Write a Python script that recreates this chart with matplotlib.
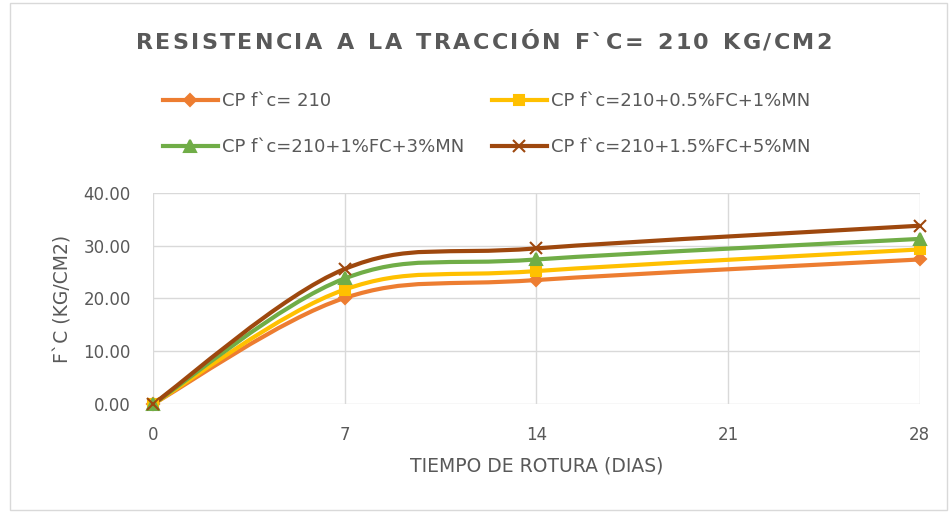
import numpy as np
import matplotlib.pyplot as plt
from matplotlib.path import Path
from matplotlib.patches import PathPatch, Rectangle
from matplotlib.lines import Line2D
from matplotlib.font_manager import FontProperties

# data
dias = [0, 7, 14, 28]
cp_210 = [0.0, 20.1, 23.5, 27.4]
cp_05fc_1mn = [0.0, 21.7, 25.2, 29.3]
cp_1fc_3mn = [0.0, 23.8, 27.4, 31.3]
cp_15fc_5mn = [0.0, 25.6, 29.5, 33.8]

labels = ['CP f`c= 210', 'CP f`c=210+0.5%FC+1%MN',
          'CP f`c=210+1%FC+3%MN', 'CP f`c=210+1.5%FC+5%MN']
series = [cp_210, cp_05fc_1mn, cp_1fc_3mn, cp_15fc_5mn]
colors = ['#ED7D31', '#FFC000', '#70AD47', '#9E480E']
markers = ['D', 's', '^', 'x']
msizes = [6, 7, 8, 9]

x_ticks = [0, 7, 14, 21, 28]
y_ticks = [0, 10, 20, 30, 40]

title = 'RESISTENCIA A LA TRACCIÓN F`C= 210 KG/CM2'
txt = '#595959'
plt.rcParams['font.family'] = ['DejaVu Sans']


def smooth_path(x, y):
    # Excel-style smoothed line: cubic Bezier through the points
    pts = np.column_stack([x, y]).astype(float)
    verts = [pts[0]]
    codes = [Path.MOVETO]
    n = len(pts)
    for i in range(n - 1):
        p0 = pts[i - 1] if i > 0 else pts[i]
        p1 = pts[i]
        p2 = pts[i + 1]
        p3 = pts[i + 2] if i + 2 < n else pts[i + 1]
        c1 = p1 + (p2 - p0) / 6.0
        c2 = p2 - (p3 - p1) / 6.0
        verts += [c1, c2, p2]
        codes += [Path.CURVE4] * 3
    return Path(verts, codes)


fig = plt.figure(figsize=(9.51, 5.12), dpi=100)
ax = fig.add_axes([0.161, 0.211, 0.806, 0.412])

for ys, c, m, ms in zip(series, colors, markers, msizes):
    ax.add_patch(PathPatch(smooth_path(dias, ys), facecolor='none',
                           edgecolor=c, lw=3, capstyle='round', zorder=3))
    ax.plot(dias, ys, ls='none', marker=m, color=c, markersize=ms,
            mew=1.5, zorder=4, clip_on=False)

ax.set_xlim(0, 28)
ax.set_ylim(0, 40)
ax.set_xticks(x_ticks)
ax.set_yticks(y_ticks)
ax.set_yticklabels([f'{v:.2f}' for v in y_ticks])
ax.grid(True, color='#d9d9d9', lw=1)
ax.set_axisbelow(True)
for s in ax.spines.values():
    s.set_visible(False)
ax.tick_params(length=0, labelsize=12, colors=txt)
ax.tick_params(axis='x', pad=16)
ax.tick_params(axis='y', pad=16)
ax.set_xlabel('TIEMPO DE ROTURA (DIAS)', fontsize=13.5, color=txt, labelpad=9)
ax.set_ylabel('F`C (KG/CM2)', fontsize=13.5, color=txt, labelpad=8)

# title with letter spacing, drawn character by character
tprop = FontProperties(family='DejaVu Sans', weight='bold', size=16)
renderer = fig.canvas.get_renderer()


def text_w(s):
    w, _, _ = renderer.get_text_width_height_descent(s + '|', tprop, ismath=False)
    w0, _, _ = renderer.get_text_width_height_descent('|', tprop, ismath=False)
    return w - w0


x_left, x_right, y_title = 136, 832, 512 - 43
natural = text_w(title)
gap = 2.3
n_space = title.count(' ')
space_extra = (x_right - x_left - natural - gap * (len(title) - 1)) / n_space
offset = 0.0
for i, ch in enumerate(title):
    xpos = x_left + text_w(title[:i]) + i * gap + offset
    fig.text(xpos / 951, y_title / 512, ch, ha='left', va='center',
             fontproperties=tprop, color=txt)
    if ch == ' ':
        offset += space_extra

# legend: row-major order in two columns
order = [0, 2, 1, 3]
handles = [Line2D([], [], color=colors[i], lw=3, marker=markers[i],
                  markersize=msizes[i], mew=1.5) for i in order]
fig.legend(handles, [labels[i] for i in order], ncol=2, loc='upper left',
           bbox_to_anchor=(0.171, 0.82), frameon=False, fontsize=13,
           labelcolor=txt, handlelength=3.05, handletextpad=0.22,
           columnspacing=1.55, labelspacing=1.55, borderpad=0,
           borderaxespad=0)

fig.patches.append(Rectangle((0.011, 0.004), 0.985, 0.99,
                             transform=fig.transFigure, fill=False,
                             edgecolor='#d9d9d9', lw=1))

fig.savefig('out.png', dpi=100, facecolor='white')
